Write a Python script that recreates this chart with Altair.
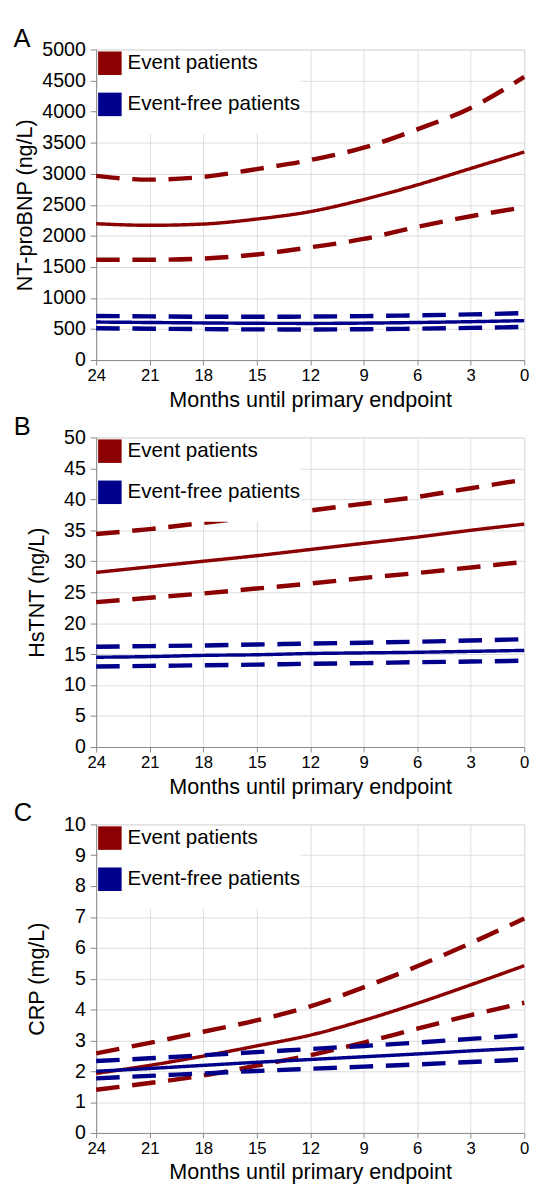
import altair as alt
import pandas as pd

months = [24, 21, 18, 15, 12, 9, 6, 3, 0]
groups = ["Event patients", "Event-free patients"]
colors = ["#8b0000", "#00008b"]
kinds = ["mean", "upper", "lower"]

# Panel A: NT-proBNP (ng/L)
a_event_mean = [2195, 2170, 2190, 2270, 2390, 2585, 2820, 3085, 3350]
a_event_upper = [2965, 2905, 2950, 3075, 3220, 3420, 3715, 4060, 4560]
a_event_lower = [1615, 1615, 1635, 1700, 1815, 1950, 2145, 2315, 2460]
a_free_mean = [612, 605, 598, 592, 590, 595, 605, 618, 635]
a_free_upper = [710, 703, 698, 697, 700, 708, 720, 735, 755]
a_free_lower = [512, 505, 498, 494, 493, 497, 505, 518, 533]

# Panel B: HsTNT (ng/L)
b_event_mean = [28.2, 29.1, 30.0, 30.9, 31.9, 32.9, 33.9, 35.0, 36.0]
b_event_upper = [34.4, 35.2, 36.2, 37.2, 38.2, 39.3, 40.4, 41.8, 43.2]
b_event_lower = [23.4, 24.1, 24.8, 25.6, 26.4, 27.3, 28.1, 29.0, 29.9]
b_free_mean = [14.5, 14.6, 14.8, 14.9, 15.1, 15.2, 15.3, 15.45, 15.6]
b_free_upper = [16.2, 16.3, 16.4, 16.55, 16.7, 16.85, 17.0, 17.2, 17.4]
b_free_lower = [13.0, 13.1, 13.2, 13.3, 13.45, 13.55, 13.7, 13.8, 13.95]

# Panel C: CRP (mg/L)
c_event_mean = [1.93, 2.19, 2.49, 2.82, 3.17, 3.65, 4.2, 4.8, 5.42]
c_event_upper = [2.58, 2.92, 3.28, 3.65, 4.1, 4.72, 5.4, 6.15, 6.95]
c_event_lower = [1.40, 1.62, 1.86, 2.18, 2.52, 2.93, 3.38, 3.82, 4.22]
c_free_mean = [2.0, 2.09, 2.19, 2.29, 2.38, 2.47, 2.56, 2.66, 2.75]
c_free_upper = [2.33, 2.42, 2.52, 2.62, 2.72, 2.82, 2.93, 3.05, 3.17]
c_free_lower = [1.77, 1.85, 1.93, 2.01, 2.08, 2.15, 2.22, 2.30, 2.38]

FONT = "Liberation Sans"


def panel(letter, ytitle, ymax, ystep, series, w, h, ytitle_pad, tdx):
    rows = []
    for grp, vals3 in zip(groups, series):
        for kind, vals in zip(kinds, vals3):
            for m, v in zip(months, vals):
                rows.append({"month": m, "value": v, "group": grp,
                             "kind": kind, "series": grp + "|" + kind})
    df = pd.DataFrame(rows)
    yticks = list(range(0, ymax + 1, ystep))
    xs = alt.Scale(domain=[0, 24], reverse=True, nice=False, zero=False)
    ys = alt.Scale(domain=[0, ymax], nice=False)

    return alt.Chart(df).mark_line(interpolate="monotone").encode(
        x=alt.X("month:Q", scale=xs,
                axis=alt.Axis(values=months, title="Months until primary endpoint",
                              labelFontSize=17, titleFontSize=22, labelFlush=False,
                              labelOverlap=False, labelPadding=3, tickSize=5,
                              titlePadding=6, format="d", titleFontWeight="normal")),
        y=alt.Y("value:Q", scale=ys,
                axis=alt.Axis(values=yticks, title=ytitle, labelFontSize=20,
                              titleFontSize=22, labelFlush=False, labelOverlap=False,
                              labelPadding=5, tickSize=6, titlePadding=ytitle_pad,
                              format="d", titleFontWeight="normal")),
        stroke=alt.Stroke("group:N", scale=alt.Scale(domain=groups, range=colors),
                          legend=alt.Legend(
                              title=None, orient="top-left", offset=2,
                              symbolType="square", symbolSize=144,
                              symbolStrokeWidth=12,
                              labelFontSize=21, labelFont=FONT, labelColor="black",
                              labelOffset=6, labelLimit=400, rowPadding=-36,
                              padding=0, fillColor="white")),
        strokeDash=alt.StrokeDash("kind:N",
                                  scale=alt.Scale(domain=kinds,
                                                  range=[[1, 0], [24, 13], [24, 13]]),
                                  legend=None),
        strokeWidth=alt.condition(alt.datum.kind == "mean", alt.value(3.5), alt.value(4.5)),
        detail="series:N",
    ).properties(
        width=w, height=h,
        title=alt.Title(letter, anchor="start", frame="bounds", fontSize=26,
                        font=FONT, fontWeight="normal", color="black",
                        offset=-12, dx=tdx),
    )


pA = panel("A", "NT-proBNP (ng/L)", 5000, 500,
           [[a_event_mean, a_event_upper, a_event_lower],
            [a_free_mean, a_free_upper, a_free_lower]], 437, 317, 6, 0)
pB = panel("B", "HsTNT (ng/L)", 50, 5,
           [[b_event_mean, b_event_upper, b_event_lower],
            [b_free_mean, b_free_upper, b_free_lower]], 437, 316, 16, -12)
pC = panel("C", "CRP (mg/L)", 10, 1,
           [[c_event_mean, c_event_upper, c_event_lower],
            [c_free_mean, c_free_upper, c_free_lower]], 437, 315, 16, -12)

chart = alt.vconcat(pA, pB, pC, spacing=2).resolve_scale(
    x="independent", y="independent",
    stroke="independent", strokeDash="independent"
).resolve_legend(stroke="independent").properties(
    padding={"left": 5, "top": 5, "right": 2, "bottom": 2}
).configure_view(
    stroke="#8c8c8c", strokeWidth=1
).configure_axis(
    gridColor="#d6d6d6", gridWidth=1, domainColor="#8c8c8c", tickColor="#8c8c8c",
    labelFont=FONT, titleFont=FONT, labelColor="black", titleColor="black",
    titleFontWeight="normal"
).configure(background="white")

chart.save("out.html", embed_options={"renderer": "svg", "actions": False})
